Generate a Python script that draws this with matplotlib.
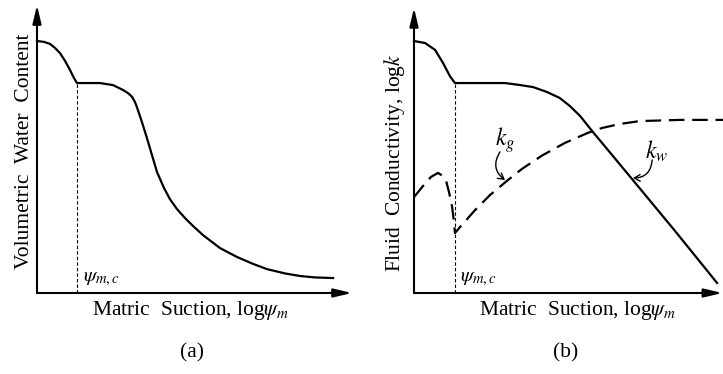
import numpy as np
import matplotlib
matplotlib.use("Agg")
import matplotlib.pyplot as plt

plt.rcParams['font.family'] = ['Liberation Serif', 'DejaVu Serif']
plt.rcParams['mathtext.fontset'] = 'stix'

# (a) soil water characteristic curve (schematic, log suction on x)
swcc_x = [0.00, 0.22, 0.41, 0.57, 0.73, 0.89, 1.05, 1.17, 1.27, 1.68, 2.00, 2.41,
          2.73, 2.89, 3.02, 3.11, 3.17, 3.33, 3.49, 3.65, 3.81, 4.03, 4.22, 4.44,
          4.70, 4.95, 5.27, 5.81, 6.35, 6.86, 7.30, 7.87, 8.35, 8.83, 9.40]
swcc_y = [8.75, 8.72, 8.65, 8.51, 8.33, 8.06, 7.74, 7.47, 7.29, 7.29, 7.29, 7.22,
          7.05, 6.94, 6.81, 6.63, 6.46, 5.94, 5.38, 4.79, 4.20, 3.65, 3.26, 2.92,
          2.60, 2.33, 2.01, 1.56, 1.25, 1.01, 0.83, 0.68, 0.59, 0.54, 0.52]

# (b) water conductivity k_w
kw_x = [0.00, 0.35, 0.67, 0.92, 1.14, 1.30, 2.10, 2.89, 3.37, 3.78, 4.22, 4.63,
        4.95, 5.27, 5.68, 6.13, 6.95, 8.29, 9.62]
kw_y = [8.75, 8.68, 8.44, 7.99, 7.53, 7.29, 7.29, 7.29, 7.22, 7.15, 6.98, 6.77,
        6.49, 6.15, 5.59, 5.00, 3.92, 2.15, 0.35]

# (b) gas conductivity k_g
kg_x = [0.00, 0.29, 0.54, 0.76, 0.92, 1.02, 1.11, 1.21, 1.27, 1.30, 1.46, 1.94,
        2.41, 2.98, 3.43, 4.06, 4.79, 5.52, 5.97, 6.54, 7.17, 8.44, 9.81]
kg_y = [3.33, 3.72, 4.03, 4.17, 4.06, 3.89, 3.51, 2.99, 2.47, 2.08, 2.29, 2.88,
        3.40, 3.92, 4.31, 4.77, 5.21, 5.56, 5.73, 5.87, 5.97, 6.01, 6.01]

psi_c_a = 1.27
psi_c_b = 1.30
theta_c = 7.29

fig = plt.figure(figsize=(7.23, 3.74), dpi=100)
W, H = 723.0, 374.0
ax1 = fig.add_axes([37 / W, 81 / H, 315 / W, 288 / H])
ax2 = fig.add_axes([414 / W, 81 / H, 309 / W, 288 / H])
ax1.set_xlim(0, 10)
ax2.set_xlim(0, 309 / 31.5)
for ax in (ax1, ax2):
    ax.set_ylim(0, 10)
    ax.axis('off')

arrow = dict(arrowstyle='-|>,head_length=0.55,head_width=0.13', lw=1.5,
             color='black', shrinkA=0, shrinkB=0, mutation_scale=20)
# axes with arrows
ax1.annotate('', xy=(10, 0), xytext=(0, 0), arrowprops=arrow, annotation_clip=False)
ax1.annotate('', xy=(0, 10), xytext=(0, 0), arrowprops=arrow, annotation_clip=False)
ax2.annotate('', xy=(9.79, 0), xytext=(0, 0), arrowprops=arrow, annotation_clip=False)
ax2.annotate('', xy=(0, 9.9), xytext=(0, 0), arrowprops=arrow, annotation_clip=False)

# curves
ax1.plot(swcc_x, swcc_y, color='black', lw=1.6, clip_on=False,
         solid_joinstyle='round')
ax2.plot(kw_x, kw_y, color='black', lw=1.6, clip_on=False, solid_joinstyle='round')
ax2.plot(kg_x, kg_y, color='black', lw=1.6, dashes=(7, 3.5), clip_on=False)

# critical suction markers
ax1.plot([psi_c_a, psi_c_a], [0, theta_c], color='black', lw=0.8, dashes=(3, 2))
ax2.plot([psi_c_b, psi_c_b], [0, theta_c], color='black', lw=0.8, dashes=(3, 2))
ax1.text(psi_c_a + 0.2, 0.5, r'$\psi_{m,c}$', fontsize=15, va='center', ha='left')
ax2.text(psi_c_b + 0.15, 0.5, r'$\psi_{m,c}$', fontsize=15, va='center', ha='left')

# curve labels with curved arrows
small = dict(arrowstyle='->,head_length=0.35,head_width=0.2', lw=1.0,
             color='black', shrinkA=0, shrinkB=0, mutation_scale=12)
ax2.text(2.89, 5.31, r'$k_g$', fontsize=17, ha='center', va='center')
ax2.annotate('', xy=(2.89, 3.92), xytext=(2.73, 4.90),
             arrowprops=dict(small, connectionstyle='arc3,rad=0.45'))
ax2.text(7.71, 4.93, r'$k_w$', fontsize=17, ha='center', va='center')
ax2.annotate('', xy=(6.95, 3.99), xytext=(7.56, 4.62),
             arrowprops=dict(small, connectionstyle='arc3,rad=-0.45'))

# labels
fig.text(191 / W, 1 - 310 / H, r'Matric  Suction, log$\psi_m$', fontsize=15.5,
         ha='center', va='center')
fig.text(578 / W, 1 - 310 / H, r'Matric  Suction, log$\psi_m$', fontsize=15.5,
         ha='center', va='center')
fig.text(25 / W, 1 - 151 / H, 'Volumetric  Water  Content', fontsize=15.5,
         rotation=90, ha='center', va='center')
fig.text(395 / W, 1 - 163 / H, r'Fluid  Conductivity, log$k$', fontsize=15.5,
         rotation=90, ha='center', va='center')
fig.text(192 / W, 1 - 353 / H, '(a)', fontsize=15.5, ha='center', va='center')
fig.text(566 / W, 1 - 353 / H, '(b)', fontsize=15.5, ha='center', va='center')

fig.savefig('out.png', dpi=100, facecolor='white')
